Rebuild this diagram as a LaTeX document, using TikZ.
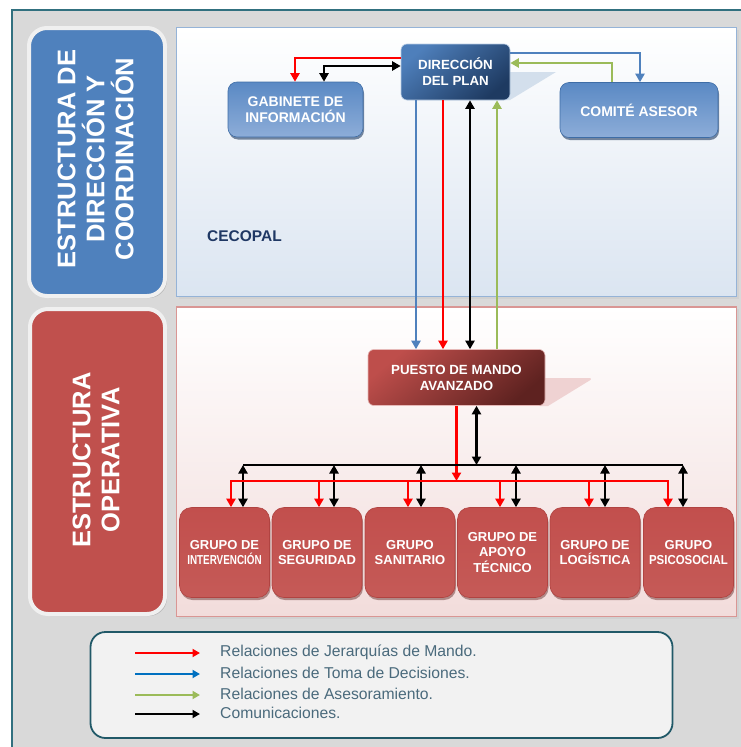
\documentclass[tikz,border=0pt]{standalone}
\usepackage{fontspec}
\setmainfont{Liberation Sans}
\usetikzlibrary{arrows.meta,shadows,calc}
\definecolor{bggray}{HTML}{D9D9D9}
\definecolor{frameteal}{HTML}{31707F}
\definecolor{lblue}{HTML}{4F81BD}
\definecolor{lred}{HTML}{C0504D}
\definecolor{pbluebd}{HTML}{95B3D7}
\definecolor{pbluebot}{HTML}{DBE5F1}
\definecolor{predbd}{HTML}{D99694}
\definecolor{predbot}{HTML}{F2DCDB}
\definecolor{dplight}{HTML}{4E7FBB}
\definecolor{dpdark}{HTML}{1E3A61}
\definecolor{pmalight}{HTML}{BE4E4B}
\definecolor{pmadark}{HTML}{5E2220}
\definecolor{navy}{HTML}{1F3864}
\definecolor{legtext}{HTML}{4A6A7C}
\definecolor{legbd}{HTML}{215968}
\definecolor{arblue}{HTML}{4F81BD}
\definecolor{argreen}{HTML}{9BBB59}
\definecolor{legblue}{HTML}{0070C0}
\definecolor{boxtop}{HTML}{5A89C4}
\definecolor{boxbot}{HTML}{8DADD8}
\definecolor{boxbd}{HTML}{3E6DA6}
\definecolor{grptop}{HTML}{C24F4D}
\definecolor{grpmid}{HTML}{D58B89}
\definecolor{grpbot}{HTML}{C55A57}
\definecolor{grpbd}{HTML}{B04341}
\definecolor{dpshadow}{HTML}{D3DFEC}
\definecolor{pmashadow}{HTML}{EFD2D2}
\tikzset{
  lbl/.style={draw=white!94!black, line width=4pt, rounded corners=18pt,
    drop shadow={shadow xshift=2pt, shadow yshift=-2pt, opacity=0.35}},
  lbltext/.style={rotate=90, text=white, align=center,
    font=\bfseries\fontsize{25.5}{29}\selectfont},
  dpbox/.style={rounded corners=6pt, draw=white!60!lblue, line width=0.6pt,
    top color=dplight, bottom color=dpdark, shading angle=40,
    text=white, align=center, font=\bfseries\fontsize{13.3}{16}\selectfont,
    minimum width=109pt, minimum height=56pt, inner sep=0pt},
  pmabox/.style={rounded corners=6pt, draw=white!60!lred, line width=0.6pt,
    top color=pmalight, bottom color=pmadark, shading angle=40,
    text=white, align=center, font=\bfseries\fontsize{13.3}{16}\selectfont,
    minimum width=177pt, minimum height=56pt, inner sep=0pt},
  bluebox/.style={rounded corners=9pt, draw=boxbd, line width=0.6pt,
    top color=boxtop, middle color=lblue, bottom color=boxbot,
    text=white, align=center, font=\bfseries\fontsize{14}{16.5}\selectfont,
    minimum height=55pt, inner sep=0pt,
    drop shadow={shadow xshift=1pt, shadow yshift=-2.5pt, opacity=0.6, fill=dpdark}},
  grpbox/.style={rounded corners=12pt, draw=grpbd, line width=0.6pt,
    top color=grptop, middle color=grpmid, bottom color=grpbot,
    text=white, align=center, font=\bfseries\fontsize{13}{15.8}\selectfont,
    minimum width=90pt, minimum height=90pt, inner sep=0pt,
    drop shadow={shadow xshift=1pt, shadow yshift=-2.5pt, opacity=0.45, fill=pmadark}},
  arr/.style={line width=2.8pt, -{Triangle[length=8.5pt,width=9pt]}},
  darr/.style={line width=2.8pt, {Triangle[length=8.5pt,width=9pt]}-{Triangle[length=8.5pt,width=9pt]}},
  bus/.style={line width=2.8pt},
  legarr/.style={line width=2.2pt, -{Triangle[length=7.5pt,width=8pt]}},
  legtxt/.style={anchor=west, text=legtext, font=\fontsize{15.7}{18}\selectfont, inner sep=0pt},
}
\begin{document}
\begin{tikzpicture}[x=1pt,y=-1pt]
\useasboundingbox (0,0) rectangle (741,747);
\fill[white] (0,0) rectangle (741,747);
\fill[bggray] (12,10) rectangle (741,747);
\draw[frameteal, line width=1.2pt] (741,10) -- (12,10) -- (12,747);

% panels
\fill[black!18] (178.5,29.5) rectangle (738.5,298.5);
\draw[pbluebd, line width=1.5pt, top color=white, bottom color=pbluebot]
  (176.5,27.5) rectangle (736.5,296.5);
\fill[black!18] (178.5,309) rectangle (738.5,618.5);
\draw[predbd, line width=1.5pt, top color=white, bottom color=predbot]
  (176.5,307) rectangle (736.5,616.5);

% side labels
\node[lbl, fill=lblue, minimum width=136pt, minimum height=268pt] (dirlab) at (97,162) {};
\node[lbltext] (dirtxt) at (95.5,159) {ESTRUCTURA DE\\DIRECCIÓN Y\\COORDINACIÓN};
\node[lbl, fill=lred, minimum width=135pt, minimum height=305pt] (oplab) at (97.5,461.5) {};
\node[lbltext] (optxt) at (96,460) {ESTRUCTURA\\OPERATIVA};

% shadows of the main boxes
\fill[dpshadow] (505,72) -- (556,72) -- (510,100) -- (505,100) -- cycle;
\fill[pmashadow] (540,378) -- (590,378) [rounded corners=2pt] -- (592,379) [sharp corners] -- (548,406) -- (540,406) -- cycle;

% nodes
\node[dpbox] (dp) at (455.5,72) {DIRECCIÓN\\DEL PLAN};
\node[bluebox, minimum width=135pt] (gab) at (295.5,109.5) {GABINETE DE\\INFORMACIÓN};
\node[bluebox, minimum width=158pt] (com) at (639,110) {COMITÉ ASESOR};
\node[anchor=west, text=navy, font=\bfseries\fontsize{15.5}{18}\selectfont, inner sep=0pt] (cecopal) at (207,236) {CECOPAL};
\node[pmabox] (pma) at (456.5,377.5) {PUESTO DE MANDO\\AVANZADO};

\node[grpbox] (g1) at (224.5,552.5) {GRUPO DE\\\scalebox{0.76}[1]{INTERVENCIÓN}};
\node[grpbox] (g2) at (317,552.5) {GRUPO DE\\SEGURIDAD};
\node[grpbox] (g3) at (410,552.5) {GRUPO\\SANITARIO};
\node[grpbox] (g4) at (502.5,552.5) {GRUPO DE\\APOYO\\TÉCNICO};
\node[grpbox] (g5) at (595,552.5) {GRUPO DE\\LOGÍSTICA};
\node[grpbox] (g6) at (688.5,552.5) {GRUPO\\\scalebox{0.88}[1]{PSICOSOCIAL}};

% top connectors
\draw[arr, red] (dp.west |- 0,58) -| (gab.north -| 295,0);
\draw[darr, black] (gab.north -| 324,0) |- (dp.west |- 0,66);
\draw[arr, arblue] (dp.east |- 0,53) -| (com.north -| 640,0);
\draw[arr, argreen] (com.north -| 612,0) |- (dp.east |- 0,63);

% DP <-> PMA
\draw[arr, arblue] (dp.south -| 416,0) -- (pma.north -| 416,0);
\draw[arr, red] (dp.south -| 443,0) -- (pma.north -| 443,0);
\draw[darr, black] (dp.south -| 470,0) -- (pma.north -| 470,0);
\draw[arr, argreen] (pma.north -| 497,0) -- (dp.south -| 497,0);

% PMA to groups
\coordinate (bb) at (476.5,465);
\coordinate (rb) at (456.5,481);
\draw[darr, black] (pma.south -| bb) -- (bb);
\draw[bus, black] (243,465) -- (683,465);
\foreach \x/\g in {243/g1, 334/g2, 421/g3, 516/g4, 605/g5, 683/g6}
  \draw[darr, black] (\x,465) -- (\g.north -| \x,0);
\draw[arr, red] (pma.south -| rb) -- (rb);
\draw[bus, red] (230,481) -- (669,481);
\foreach \x/\g in {231/g1, 319/g2, 408/g3, 500/g4, 589/g5, 668/g6}
  \draw[arr, red] (\x,481) -- (\g.north -| \x,0);
\draw[bus, black] (243,465) -- (683,465);

% legend
\draw[legbd, line width=1.8pt, fill=white!95!black, rounded corners=15pt] (90.5,632) rectangle (672.5,738);
\coordinate (la1) at (135,653); \coordinate (lb1) at (200,653);
\coordinate (la2) at (135,674); \coordinate (lb2) at (200,674);
\coordinate (la3) at (135,695); \coordinate (lb3) at (200,695);
\coordinate (la4) at (135,714); \coordinate (lb4) at (200,714);
\draw[legarr, red] (la1) -- (lb1);
\draw[legarr, legblue] (la2) -- (lb2);
\draw[legarr, argreen] (la3) -- (lb3);
\draw[legarr, black] (la4) -- (lb4);
\node[legtxt] (lt1) at (220,652) {Relaciones de Jerarquías de Mando.};
\node[legtxt] (lt2) at (220,673) {Relaciones de Toma de Decisiones.};
\node[legtxt] (lt3) at (220,693.5) {Relaciones de Asesoramiento.};
\node[legtxt] (lt4) at (220,713) {Comunicaciones.};
\end{tikzpicture}
\end{document}
